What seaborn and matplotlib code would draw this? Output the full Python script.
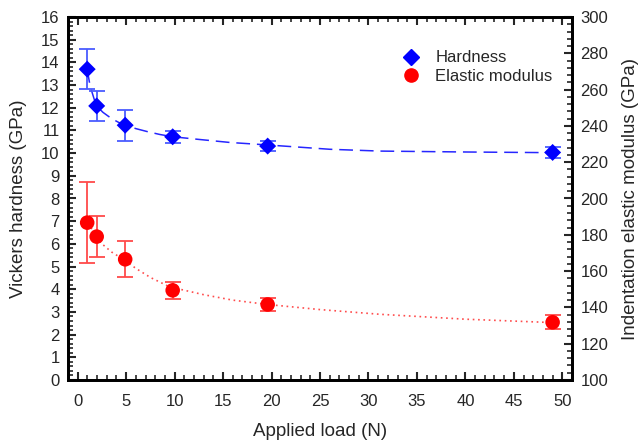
import matplotlib
matplotlib.use("Agg")
import matplotlib.pyplot as plt
from matplotlib.ticker import MultipleLocator
from matplotlib.lines import Line2D
import seaborn as sns
import pandas as pd

# ---- data ----
load = [0.98, 1.96, 4.9, 9.8, 19.6, 49.0]
hardness = [13.7, 12.08, 11.23, 10.72, 10.31, 10.03]
hardness_err = [0.88, 0.68, 0.68, 0.27, 0.23, 0.25]
modulus = [186.7, 179.0, 166.5, 149.4, 141.6, 131.8]
modulus_err = [22.5, 11.5, 10.0, 4.7, 3.5, 3.8]

# fitted trend curves
fit_h_x = [0.98, 1.2, 1.41, 1.7, 2.02, 2.6, 3.47, 4.2, 4.91, 6.0, 7.26, 8.5, 9.84, 12.6, 15.7, 19.6, 26.0, 31.2, 40.0, 49.0]
fit_h_y = [13.7, 13.15, 12.78, 12.38, 12.05, 11.8, 11.53, 11.36, 11.24, 11.08, 10.94, 10.82, 10.72, 10.6, 10.47, 10.36, 10.17, 10.09, 10.05, 10.02]
fit_e_x = [0.98, 1.4, 1.96, 2.44, 3.5, 4.85, 6.0, 7.5, 9.3, 10.56, 13.0, 16.0, 19.6, 25.0, 31.2, 40.0, 48.2, 49.0]
fit_e_y = [186.0, 183.6, 179.0, 175.3, 170.5, 166.0, 161.5, 156.5, 151.8, 150.0, 147.0, 144.0, 141.6, 138.8, 136.2, 133.5, 131.8, 131.6]

sns.set_style("ticks")
plt.rcParams["font.family"] = ["Liberation Sans", "DejaVu Sans"]

fig = plt.figure(figsize=(6.44, 4.40), dpi=100)
ax = fig.add_axes([68/644, 1-380/440, (572-68)/644, (380-17)/440])
ax2 = ax.twinx()

blue = "#0000ff"
red = "#ff0000"

# curves
sns.lineplot(x=fit_h_x, y=fit_h_y, ax=ax, color=blue, lw=1.1, linestyle=(0, (9, 4.5)), alpha=0.85, legend=False)
sns.lineplot(x=fit_e_x, y=fit_e_y, ax=ax2, color=red, lw=1.2, linestyle=(0, (1, 2.2)), alpha=0.7, legend=False)

# error bars
ax.errorbar(load, hardness, yerr=hardness_err, fmt="none", ecolor="#4a5cff", elinewidth=1.3, capsize=6, capthick=1.3, zorder=3)
ax2.errorbar(load, modulus, yerr=modulus_err, fmt="none", ecolor="#ff4a4a", elinewidth=1.3, capsize=6, capthick=1.3, zorder=3)

# markers
df_h = pd.DataFrame({"load": load, "val": hardness})
df_e = pd.DataFrame({"load": load, "val": modulus})
sns.scatterplot(data=df_h, x="load", y="val", ax=ax, marker="D", s=75, color=blue, edgecolor="none", zorder=4, legend=False)
sns.scatterplot(data=df_e, x="load", y="val", ax=ax2, marker="o", s=110, color=red, edgecolor="none", zorder=4, legend=False)

ax.set_xlim(-1, 51)
ax.set_ylim(0, 16)
ax2.set_ylim(100, 300)

ax.xaxis.set_major_locator(MultipleLocator(5))
ax.xaxis.set_minor_locator(MultipleLocator(1))
ax.yaxis.set_major_locator(MultipleLocator(1))
ax.yaxis.set_minor_locator(MultipleLocator(0.2))
ax2.yaxis.set_major_locator(MultipleLocator(20))
ax2.yaxis.set_minor_locator(MultipleLocator(4))

ax.set_xlabel("Applied load (N)", fontsize=13.5, labelpad=10)
ax.set_ylabel("Vickers hardness (GPa)", fontsize=13.5, labelpad=10)
ax2.set_ylabel("Indentation elastic modulus (GPa)", fontsize=13.5, labelpad=10)

ax.tick_params(axis="x", which="both", direction="in", top=True, bottom=True, labelsize=12, pad=10)
ax.tick_params(axis="y", which="both", direction="in", left=True, right=False, labelsize=12, pad=6)
ax2.tick_params(axis="y", which="both", direction="in", right=True, left=False, labelsize=12, pad=6)
for a in (ax, ax2):
    a.tick_params(which="major", length=6, width=1.5)
    a.tick_params(which="minor", length=3.5, width=1.2)
    for sp in a.spines.values():
        sp.set_visible(True)
        sp.set_linewidth(2)
        sp.set_color("black")

handles = [
    Line2D([], [], marker="D", color=blue, linestyle="none", markersize=8),
    Line2D([], [], marker="o", color=red, linestyle="none", markersize=9.5),
]
ax.legend(handles, ["Hardness", "Elastic modulus"], loc="upper left", bbox_to_anchor=(0.625, 0.94),
          frameon=False, fontsize=12, handletextpad=0.45, labelspacing=0.2, borderpad=0.2)

fig.savefig("out.png", dpi=100)
